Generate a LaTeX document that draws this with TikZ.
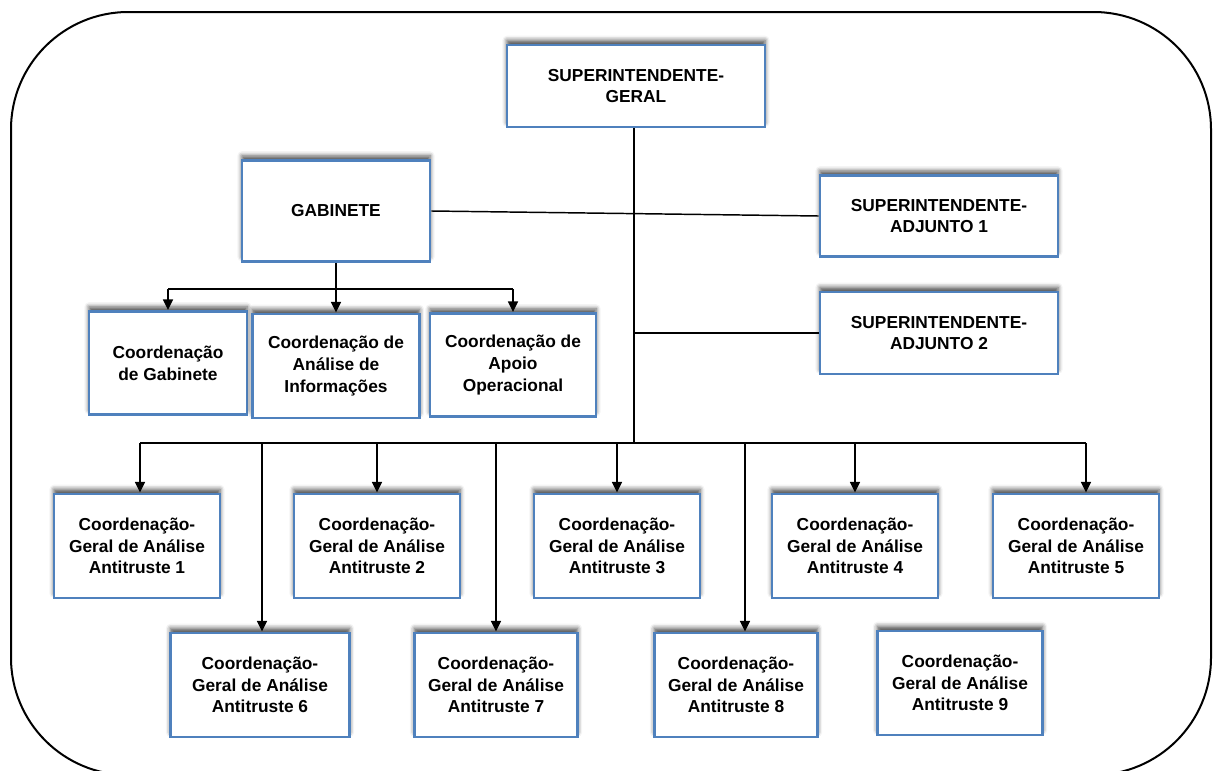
\documentclass[tikz,border=0pt]{standalone}
\usepackage{fontspec}
\setmainfont{Liberation Sans}
\usetikzlibrary{arrows.meta,shadows.blur,calc}
\definecolor{boxblue}{HTML}{4F81BD}
\begin{document}
\begin{tikzpicture}[x=0.75pt,y=-0.75pt,
  orgbox/.style 2 args={draw=boxblue, line width=2.2pt, fill=white,
    minimum width=#1*0.75pt, minimum height=#2*0.75pt, align=center,
    inner sep=2pt, font=\fontsize{13}{16.3}\selectfont\bfseries,
    blur shadow={shadow xshift=0pt, shadow yshift=3.5pt,
      shadow blur radius=3.5pt, shadow opacity=70}},
  link/.style={line width=1.1pt, black},
  arr/.style={link, -{Triangle[length=8pt,width=7.5pt]}}]
\useasboundingbox (0,0) rectangle (1214,771);

% outer frame
\draw[line width=1.5pt, rounded corners=88pt] (11,12) rectangle (1211,775);

% top levels
\node[orgbox={258}{82}] (sg) at (636,86) {SUPERINTENDENTE-\\GERAL};
\node[orgbox={188}{101}] (gab) at (336,211) {GABINETE};
\node[orgbox={238}{81}] (sa1) at (939,216) {SUPERINTENDENTE-\\ADJUNTO 1};
\node[orgbox={238}{82}] (sa2) at (939,333) {SUPERINTENDENTE-\\ADJUNTO 2};

% units of the cabinet
\node[orgbox={158}{103}] (cg) at (168,363) {Coordenação\\de Gabinete};
\node[orgbox={167}{104}] (cai) at (336,366) {Coordenação de\\Análise de\\Informações};
\node[orgbox={166}{103}] (cao) at (513,365) {Coordenação de\\Apoio\\Operacional};

% general coordinations
\node[orgbox={166}{104}] (a1) at (137,546) {Coordenação-\\Geral de Análise\\Antitruste 1};
\node[orgbox={166}{104}] (a2) at (377,546) {Coordenação-\\Geral de Análise\\Antitruste 2};
\node[orgbox={166}{104}] (a3) at (617,546) {Coordenação-\\Geral de Análise\\Antitruste 3};
\node[orgbox={166}{104}] (a4) at (855,546) {Coordenação-\\Geral de Análise\\Antitruste 4};
\node[orgbox={166}{104}] (a5) at (1076,546) {Coordenação-\\Geral de Análise\\Antitruste 5};
\node[orgbox={179}{104}] (a6) at (260,685) {Coordenação-\\Geral de Análise\\Antitruste 6};
\node[orgbox={163}{104}] (a7) at (496,685) {Coordenação-\\Geral de Análise\\Antitruste 7};
\node[orgbox={163}{104}] (a8) at (736,685) {Coordenação-\\Geral de Análise\\Antitruste 8};
\node[orgbox={165}{104}] (a9) at (960,683) {Coordenação-\\Geral de Análise\\Antitruste 9};

% junction points
\coordinate (bus) at (634,443);
\coordinate (gbus) at (336,289);

% main trunk and side links
\draw[link] (sg.south -| bus) -- (bus);
\draw[link] (gab.east) -- (sa1.west);
\draw[link] (bus |- sa2.west) -- (sa2.west);

% cabinet branch
\draw[link] (gab.south) -- (gbus);
\draw[link] (cg.north |- gbus) -- (cao.north |- gbus);
\foreach \n in {cg,cai,cao}
  \draw[arr] (\n.north |- gbus) -- (\n.north);

% lower bus
\draw[link] ([xshift=2.25pt]a1.north |- bus) -- ([xshift=7.5pt]a5.north |- bus);
\draw[arr] ([xshift=2.25pt]a1.north |- bus) -- ([xshift=2.25pt]a1.north);
\foreach \n in {a2,a3,a4}
  \draw[arr] (\n.north |- bus) -- (\n.north);
\draw[arr] ([xshift=7.5pt]a5.north |- bus) -- ([xshift=7.5pt]a5.north);
\draw[arr] ([xshift=1.5pt]a6.north |- bus) -- ([xshift=1.5pt]a6.north);
\draw[arr] (a7.north |- bus) -- (a7.north);
\draw[arr] ([xshift=6.75pt]a8.north |- bus) -- ([xshift=6.75pt]a8.north);
\end{tikzpicture}
\end{document}
